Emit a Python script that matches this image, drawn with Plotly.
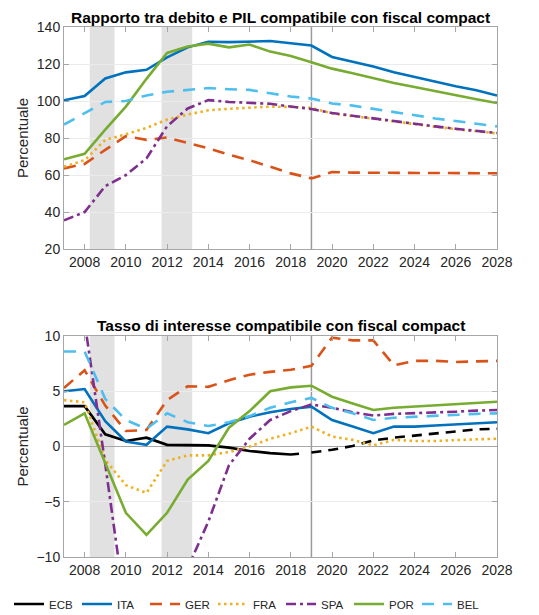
import plotly.graph_objects as go

years = list(range(2007, 2029))

# ---- Debt-to-GDP (top panel) ----
debt_ita = [100.4, 102.7, 112.2, 115.5, 116.9, 123.6, 129.0, 132.0, 131.8, 132.3, 132.4, 131.2,
            130.0, 123.8, 121.4, 118.7, 115.5, 113.0, 110.3, 108.0, 105.8, 103.0]
debt_ger = [63.6, 66.0, 73.6, 81.0, 79.0, 80.3, 77.3, 74.5, 71.0, 68.0, 64.5, 60.9,
            58.2, 61.6, 61.3, 61.2, 61.1, 61.1, 61.0, 61.0, 61.0, 61.0]
debt_fra = [64.5, 68.0, 79.0, 82.0, 85.5, 90.0, 92.7, 95.0, 95.8, 96.4, 97.0, 96.8,
            96.3, 93.3, 91.8, 90.4, 89.0, 87.4, 86.1, 84.8, 83.8, 82.5]
debt_spa = [35.5, 40.0, 54.0, 60.0, 69.0, 86.4, 96.0, 100.5, 99.5, 99.0, 98.5, 97.0,
            95.7, 93.5, 92.0, 90.6, 89.2, 87.6, 86.3, 85.0, 84.0, 82.7]
debt_por = [68.5, 71.5, 84.5, 97.0, 112.0, 126.0, 129.5, 131.0, 129.0, 130.5, 126.7, 124.3,
            121.0, 117.5, 115.0, 112.3, 109.7, 107.6, 105.3, 103.2, 101.0, 98.9]
debt_bel = [87.3, 93.6, 99.5, 100.0, 103.0, 105.0, 106.0, 107.0, 106.4, 106.0, 104.2, 102.4,
            101.4, 98.7, 97.5, 95.7, 93.9, 92.0, 90.6, 89.2, 87.9, 86.3]

# ---- Interest rate (bottom panel) ----
ecb_hist_years = [2007, 2008, 2009, 2010, 2011, 2012, 2013, 2014, 2015, 2016, 2017, 2018, 2018.4]
ecb_hist = [3.65, 3.65, 1.1, 0.5, 0.8, 0.15, 0.12, 0.1, -0.1, -0.4, -0.6, -0.72, -0.65]
ecb_proj_years = list(range(2019, 2029))
ecb_proj = [-0.55, -0.3, 0.05, 0.55, 0.8, 1.0, 1.2, 1.4, 1.55, 1.6]

rate_ita = [5.0, 5.2, 2.3, 0.45, 0.15, 1.8, 1.55, 1.2, 2.1, 2.7, 3.1, 3.4,
            3.6, 2.4, 1.8, 1.2, 1.8, 1.8, 1.9, 2.0, 2.1, 2.2]
rate_ger = [5.3, 6.9, 3.7, 1.4, 1.5, 4.2, 5.45, 5.4, 6.0, 6.5, 6.75, 6.95,
            7.3, 9.85, 9.6, 9.6, 7.35, 7.75, 7.75, 7.65, 7.7, 7.75]
rate_fra = [4.2, 4.0, -1.2, -3.5, -4.2, -1.3, -0.8, -0.8, -0.5, 0.0, 0.7, 1.2,
            1.8, 0.9, 0.6, 0.1, 0.6, 0.5, 0.5, 0.6, 0.65, 0.7]
rate_spa = [25.0, 11.3, -1.6, -15.0, -22.0, -17.0, -11.0, -6.8, -1.7, 0.7, 2.4, 3.2,
            3.8, 3.5, 3.1, 2.8, 2.95, 3.0, 3.1, 3.15, 3.25, 3.3]
rate_por = [1.95, 3.0, -1.5, -6.0, -8.0, -6.0, -3.0, -1.3, 1.7, 3.2, 5.0, 5.35,
            5.5, 4.5, 3.9, 3.3, 3.5, 3.6, 3.7, 3.85, 3.95, 4.05]
rate_bel = [8.6, 8.6, 4.3, 2.4, 1.6, 3.0, 2.2, 1.85, 2.2, 2.75, 3.5, 4.0,
            4.4, 3.5, 3.0, 2.4, 2.6, 2.7, 2.75, 2.85, 2.95, 3.0]

# shaded recession periods
bands = [(2008.25, 2009.45), (2011.73, 2013.22)]
split_year = 2019

C_ECB = "#000000"
C_ITA = "#0072BD"
C_GER = "#D95319"
C_FRA = "#EDB120"
C_SPA = "#7E2F8E"
C_POR = "#77AC30"
C_BEL = "#4DBEEE"

W = 2.6
D_GER = "12px,8px"
D_BEL = "12px,9px"
D_FRA = "2.5px,3.5px"
D_SPA = "10px,4px,3px,4px"
D_ECBP = "10px,7px"

fig = go.Figure()

def add(x, y, name, color, dash, xa, ya, show):
    fig.add_trace(go.Scatter(
        x=x, y=y, mode="lines", name=name, legendgroup=name, showlegend=show,
        line=dict(color=color, width=W, dash=dash), xaxis=xa, yaxis=ya,
        hoverinfo="skip"))

# bottom panel first so legend order is ECB, ITA, GER, ...
add(ecb_hist_years, ecb_hist, "ECB", C_ECB, "solid", "x2", "y2", True)
add(ecb_proj_years, ecb_proj, "ECB", C_ECB, D_ECBP, "x2", "y2", False)
add(years, rate_ita, "ITA", C_ITA, "solid", "x2", "y2", True)
add(years, rate_ger, "GER", C_GER, D_GER, "x2", "y2", True)
add(years, rate_fra, "FRA", C_FRA, D_FRA, "x2", "y2", True)
add(years, rate_spa, "SPA", C_SPA, D_SPA, "x2", "y2", True)
add(years, rate_por, "POR", C_POR, "solid", "x2", "y2", True)
add(years, rate_bel, "BEL", C_BEL, D_BEL, "x2", "y2", True)

add(years, debt_ita, "ITA", C_ITA, "solid", "x", "y", False)
add(years, debt_ger, "GER", C_GER, D_GER, "x", "y", False)
add(years, debt_fra, "FRA", C_FRA, D_FRA, "x", "y", False)
add(years, debt_spa, "SPA", C_SPA, D_SPA, "x", "y", False)
add(years, debt_por, "POR", C_POR, "solid", "x", "y", False)
add(years, debt_bel, "BEL", C_BEL, D_BEL, "x", "y", False)

shapes = []
for xr, yr in (("x", "y"), ("x2", "y2")):
    for a, b in bands:
        shapes.append(dict(type="rect", xref=xr, yref=yr + " domain", x0=a, x1=b, y0=0, y1=1,
                           fillcolor="#e1e1e1", line=dict(width=0), layer="below"))
    shapes.append(dict(type="line", xref=xr, yref=yr + " domain", x0=split_year, x1=split_year,
                       y0=0, y1=1, line=dict(color="#9a9a9a", width=1.5), layer="below"))

FONT = "Liberation Sans, Arial, sans-serif"
TC = "#262626"

axis_common = dict(showline=True, linecolor="#a6a6a6", linewidth=1, mirror="ticks",
                   ticks="inside", ticklen=5, tickcolor="#a6a6a6",
                   tickfont=dict(family=FONT, size=14, color=TC))

# page body has an 8px margin, so the figure is 8px smaller and offset
fig.update_layout(
    width=531, height=607,
    margin=dict(l=56, r=42, t=19, b=58, autoexpand=False),
    paper_bgcolor="white", plot_bgcolor="white",
    font=dict(family=FONT, color=TC),
    showlegend=True,
    legend=dict(orientation="h", xref="paper", yref="paper",
                x=(9 - 64) / 433, y=-(604 - 557) / 530, xanchor="left", yanchor="middle",
                font=dict(family=FONT, size=11.5, color=TC),
                entrywidth=23, entrywidthmode="pixels",
                itemwidth=30, tracegroupgap=0, bgcolor="rgba(0,0,0,0)"),
    xaxis=dict(domain=[0, 1], anchor="y", range=[2007, 2028], tickvals=list(range(2008, 2029, 2)),
               showgrid=False, zeroline=False, **axis_common),
    yaxis=dict(domain=[0.581, 1], anchor="x", range=[20, 140], tickvals=list(range(20, 141, 20)),
               showgrid=True, gridcolor="#ebebeb", zeroline=False, **axis_common),
    xaxis2=dict(domain=[0, 1], anchor="y2", range=[2007, 2028], tickvals=list(range(2008, 2029, 2)),
                showgrid=False, zeroline=False, **axis_common),
    yaxis2=dict(domain=[0, 0.417], anchor="x2", range=[-10, 10], tickvals=[-10, -5, 0, 5, 10],
                showgrid=True, gridcolor="#ebebeb", zeroline=True, zerolinecolor="#a6a6a6",
                zerolinewidth=1, **axis_common),
    shapes=shapes,
    annotations=[
        dict(text="<b>Rapporto tra debito e PIL compatibile con fiscal compact</b>",
             xref="paper", yref="paper", x=0.5, y=1 + 10 / 530, xanchor="center", yanchor="middle",
             showarrow=False, font=dict(family=FONT, size=15.5, color="#000000")),
        dict(text="<b>Tasso di interesse compatibile con fiscal compact</b>",
             xref="paper", yref="paper", x=0.5, y=(557 - 325) / 530, xanchor="center", yanchor="middle",
             showarrow=False, font=dict(family=FONT, size=15.5, color="#000000")),
        dict(text="Percentuale", xref="paper", yref="y domain", x=(22 - 64) / 433, y=0.5,
             xanchor="center", yanchor="middle", textangle=-90, showarrow=False,
             font=dict(family=FONT, size=15, color=TC)),
        dict(text="Percentuale", xref="paper", yref="y2 domain", x=(22 - 64) / 433, y=0.5,
             xanchor="center", yanchor="middle", textangle=-90, showarrow=False,
             font=dict(family=FONT, size=15, color=TC)),
    ],
)

fig.write_html("out.html")
